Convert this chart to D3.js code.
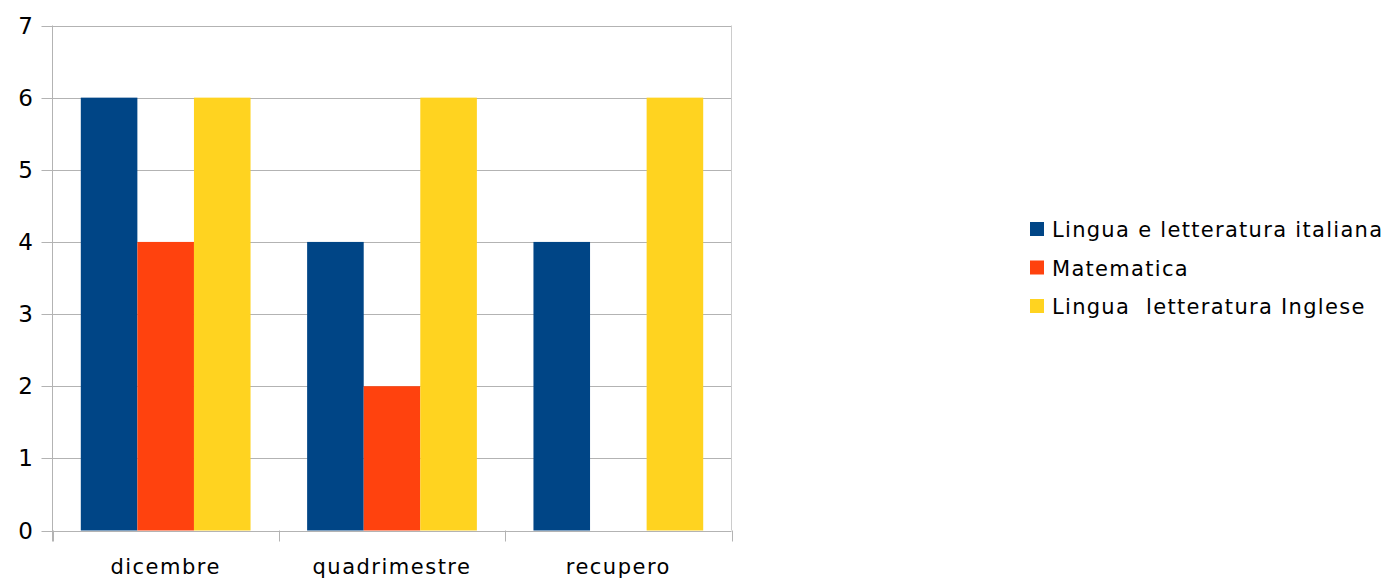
<!DOCTYPE html>
<html><head><meta charset="utf-8">
<script src="https://cdn.jsdelivr.net/npm/d3@7"></script>
<style>body{margin:0;background:#fff}svg{display:block}</style>
</head><body>
<svg id="c" width="1387" height="581"></svg>
<script>
const categories = ["dicembre", "quadrimestre", "recupero"];
const seriesNames = ["Lingua e letteratura italiana", "Matematica", "Lingua  letteratura Inglese"];
const italiano = [6, 4, 4];
const matematica = [4, 2, 0];
const inglese = [6, 6, 6];
const yTicks = [0, 1, 2, 3, 4, 5, 6, 7];
const colors = ["#004586", "#ff420e", "#ffd320"];
const seriesValues = [italiano, matematica, inglese];

const svg = d3.select("#c");
const L = 52.5, R = 731.5, T = 25.5, B = 530.5;
const x = d3.scaleBand().domain(categories).range([L, R]).paddingInner(0).paddingOuter(0);
const xs = d3.scaleBand().domain(d3.range(3)).range([0, x.bandwidth()]).paddingInner(0).paddingOuter(0.5);
const y = d3.scaleLinear().domain([0, 7]).range([B, T]);
const grid = "#b3b3b3";

// gridlines
svg.append("g").selectAll("line").data(yTicks).join("line")
  .attr("x1", L - 11).attr("x2", R).attr("y1", d => Math.round(y(d)) + 0.5).attr("y2", d => Math.round(y(d)) + 0.5)
  .attr("stroke", grid).attr("stroke-width", 1);

// right border
svg.append("line").attr("x1", R).attr("x2", R).attr("y1", T).attr("y2", B).attr("stroke", "#cccccc");

// bars
categories.forEach((c, ci) => {
  seriesValues.forEach((vals, si) => {
    const v = vals[ci];
    if (v <= 0) return;
    svg.append("rect")
      .attr("x", x(c) + xs(si)).attr("width", xs.bandwidth())
      .attr("y", y(v)).attr("height", y(0) - y(v))
      .attr("fill", colors[si]);
  });
});

// y axis line
svg.append("line").attr("x1", L).attr("x2", L).attr("y1", T).attr("y2", B + 11).attr("stroke", grid);
// x axis ticks
const bounds = categories.map(c => x(c)).concat([R]);
svg.append("g").selectAll("line").data(bounds).join("line")
  .attr("x1", d => Math.round(d) + 0.5).attr("x2", d => Math.round(d) + 0.5)
  .attr("y1", B).attr("y2", B + 11).attr("stroke", grid);

// y labels
svg.append("g").selectAll("text").data(yTicks).join("text")
  .attr("x", 33).attr("y", d => y(d) + 8).attr("text-anchor", "end")
  .attr("font-family", "DejaVu Sans, sans-serif").attr("font-size", 23).attr("fill", "#000")
  .text(d => d);

// x labels
svg.append("g").selectAll("text").data(categories).join("text")
  .attr("x", d => x(d) + x.bandwidth() / 2).attr("y", 574).attr("text-anchor", "middle")
  .attr("font-family", "DejaVu Sans, sans-serif").attr("font-size", 21).attr("letter-spacing", 1.5).attr("fill", "#000")
  .text(d => d);

// legend
const lg = svg.append("g");
seriesNames.forEach((n, i) => {
  const cy = 229 + i * 38.5;
  lg.append("rect").attr("x", 1030).attr("y", cy - 7).attr("width", 14).attr("height", 14).attr("fill", colors[i]);
  lg.append("text").attr("x", 1052).attr("y", cy + 8).attr("font-family", "DejaVu Sans, sans-serif")
    .attr("font-size", 21).attr("letter-spacing", 1.3).attr("fill", "#000").style("white-space", "pre").text(n);
});
</script>
</body></html>
